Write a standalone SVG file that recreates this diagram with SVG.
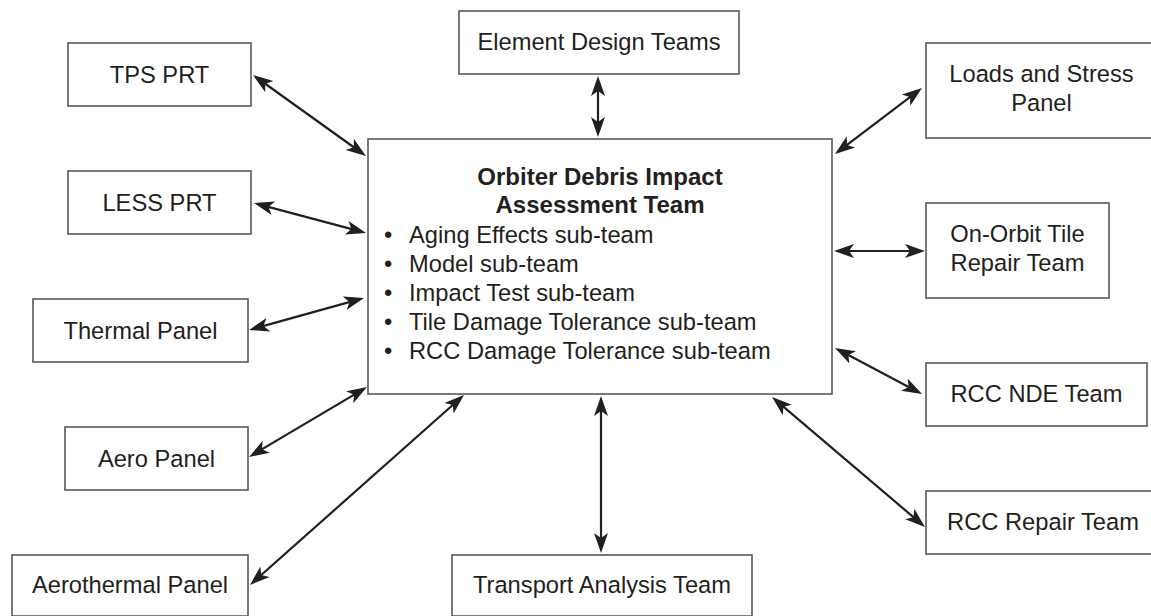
<svg xmlns="http://www.w3.org/2000/svg" width="1151" height="616" viewBox="0 0 1151 616">
<style>
.box{fill:#fff;stroke:#58595b;stroke-width:1.6}
.t{font-family:"Liberation Sans",Arial,sans-serif;font-size:23.7px;fill:#231f20;text-anchor:middle}
.tl{font-family:"Liberation Sans",Arial,sans-serif;font-size:23.7px;fill:#231f20}
.b{font-weight:bold;font-size:24px}
.c{stroke:#231f20;stroke-width:2.2;fill:none;marker-start:url(#ah);marker-end:url(#ah)}
</style>
<defs>
<marker id="ah" markerUnits="userSpaceOnUse" markerWidth="22" markerHeight="16" viewBox="0 -8 22 16" refX="14" refY="0" orient="auto-start-reverse">
<path d="M20,0 L0,-7 L5,0 L0,7 Z" fill="#231f20"/>
</marker>
</defs>
<rect width="1151" height="616" fill="#fff"/>
<g id="connectors">
<line class="c" x1="257.9" y1="78.5" x2="361.1" y2="152.5"/>
<line class="c" x1="259.8" y1="204.6" x2="360.2" y2="231.4"/>
<line class="c" x1="254.8" y1="328.4" x2="358.2" y2="299.6"/>
<line class="c" x1="254.2" y1="453.9" x2="361.8" y2="390.1"/>
<line class="c" x1="254.5" y1="581" x2="459.5" y2="399"/>
<line class="c" x1="601" y1="402" x2="601" y2="547"/>
<line class="c" x1="776.6" y1="400.9" x2="920.4" y2="523.1"/>
<line class="c" x1="840.3" y1="350.8" x2="916.7" y2="391.2"/>
<line class="c" x1="840" y1="251" x2="919" y2="251"/>
<line class="c" x1="839.8" y1="150.4" x2="917.2" y2="91.6"/>
<line class="c" x1="598" y1="82" x2="598" y2="131"/>
</g>
<g id="central">
<rect class="box" x="368" y="139" width="464" height="255"/>
<text class="t b" x="600" y="185">Orbiter Debris Impact</text>
<text class="t b" x="600" y="213">Assessment Team</text>
<text class="tl" x="384" y="243">•</text><text class="tl" x="409" y="243">Aging Effects sub-team</text>
<text class="tl" x="384" y="272">•</text><text class="tl" x="409" y="272">Model sub-team</text>
<text class="tl" x="384" y="301">•</text><text class="tl" x="409" y="301">Impact Test sub-team</text>
<text class="tl" x="384" y="330">•</text><text class="tl" x="409" y="330">Tile Damage Tolerance sub-team</text>
<text class="tl" x="384" y="359">•</text><text class="tl" x="409" y="359">RCC Damage Tolerance sub-team</text>
</g>
<g id="tps-prt"><rect class="box" x="68" y="43" width="183" height="63"/><text class="t" x="159.5" y="82.5">TPS PRT</text></g>
<g id="less-prt"><rect class="box" x="68" y="171" width="183" height="63"/><text class="t" x="159.5" y="210.5">LESS PRT</text></g>
<g id="thermal-panel"><rect class="box" x="33" y="299" width="215" height="63"/><text class="t" x="140.5" y="338.5">Thermal Panel</text></g>
<g id="aero-panel"><rect class="box" x="65" y="427" width="183" height="63"/><text class="t" x="156.5" y="466.5">Aero Panel</text></g>
<g id="aerothermal-panel"><rect class="box" x="12" y="555" width="236" height="61"/><text class="t" x="130" y="593">Aerothermal Panel</text></g>
<g id="element-design"><rect class="box" x="459" y="11" width="280" height="63"/><text class="t" x="599" y="50">Element Design Teams</text></g>
<g id="loads-stress"><rect class="box" x="926" y="43" width="231" height="95"/><text class="t" x="1041.5" y="82">Loads and Stress</text><text class="t" x="1041.5" y="111">Panel</text></g>
<g id="on-orbit-tile"><rect class="box" x="926" y="203" width="183" height="95"/><text class="t" x="1017.5" y="242">On-Orbit Tile</text><text class="t" x="1017.5" y="271">Repair Team</text></g>
<g id="rcc-nde"><rect class="box" x="926" y="363" width="221" height="63"/><text class="t" x="1036.5" y="402">RCC NDE Team</text></g>
<g id="rcc-repair"><rect class="box" x="926" y="491" width="234" height="63"/><text class="t" x="1043" y="530">RCC Repair Team</text></g>
<g id="transport"><rect class="box" x="452" y="555" width="300" height="61"/><text class="t" x="602" y="593">Transport Analysis Team</text></g>
</svg>
